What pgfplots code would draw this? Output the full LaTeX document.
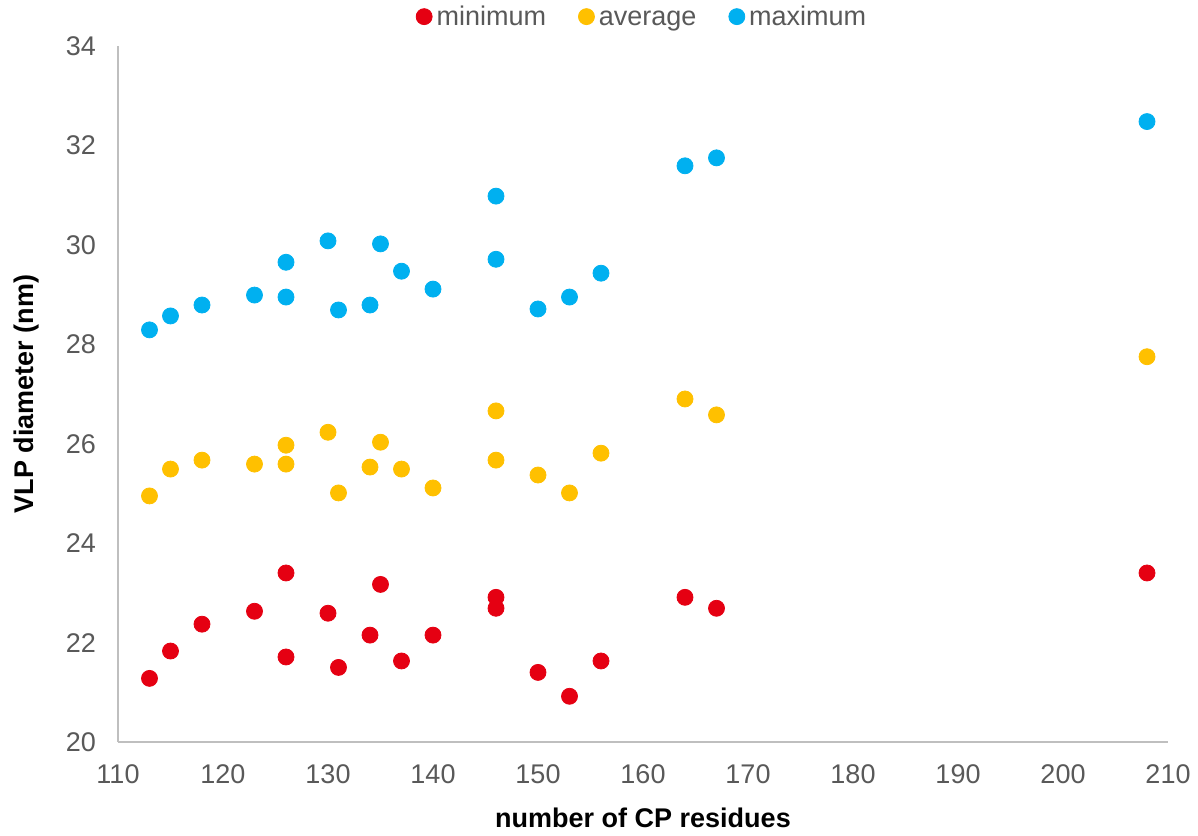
\documentclass[border=0pt]{standalone}
\usepackage{pgfplots}
\pgfplotsset{compat=1.18}
\usepackage{fontspec}
\setmainfont{Liberation Sans}
\definecolor{cmin}{HTML}{E50012}
\definecolor{cavg}{HTML}{FFC000}
\definecolor{cmax}{HTML}{00B0F0}
\definecolor{txt}{HTML}{595959}
\definecolor{axl}{HTML}{BFBFBF}
\begin{document}
\begin{tikzpicture}
\path[use as bounding box] (-59pt,-46.5pt) rectangle (540pt,371pt);
\begin{axis}[
  at={(0,0)}, anchor=south west,
  scale only axis,
  width=525pt, height=348pt,
  xmin=110, xmax=210, ymin=20, ymax=34,
  xtick={110,120,...,210},
  ytick={20,22,...,34},
  axis x line*=bottom, axis y line*=left,
  axis line style={axl, line width=1.2pt, -},
  major tick style={draw=none},
  tick label style={font=\fontsize{13.5}{16}\selectfont, text=txt},
  xticklabel style={yshift=-8pt},
  yticklabel style={xshift=-7.5pt},
  /pgf/number format/assume math mode=true,
  xlabel={number of CP residues},
  ylabel={VLP diameter (nm)},
  label style={font=\fontsize{13.5}{16}\selectfont\bfseries},
  xlabel style={at={(axis description cs:0.5,-0.109)}, anchor=center},
  ylabel style={at={(axis description cs:-0.0867,0.5)}, anchor=center},
  legend columns=3,
  legend style={draw=none, at={(0.5,1.037)}, anchor=center,
    font=\fontsize{13.5}{16}\selectfont, text=txt,
    nodes={text height=0.72em, text depth=0.22em},
    /tikz/every even column/.append style={column sep=14pt}},
  legend image code/.code={\draw[#1] (0.15cm,1.8pt) circle (4pt);},
]
\addplot[only marks, mark=*, mark size=4pt, draw=cmin, fill=cmin] coordinates {
  (113,21.28)(115,21.83)(118,22.37)(123,22.63)(126,23.40)(126,21.71)
  (130,22.59)(131,21.50)(134,22.15)(135,23.17)(137,21.63)(140,22.15)
  (146,22.91)(146,22.69)(150,21.40)(153,20.92)(156,21.63)(164,22.91)
  (167,22.69)(208,23.40)
};
\addlegendentry{minimum}
\addplot[only marks, mark=*, mark size=4pt, draw=cavg, fill=cavg] coordinates {
  (113,24.95)(115,25.49)(118,25.67)(123,25.59)(126,25.97)(126,25.59)
  (130,26.23)(131,25.01)(134,25.53)(135,26.03)(137,25.49)(140,25.11)
  (146,26.66)(146,25.67)(150,25.37)(153,25.01)(156,25.81)(164,26.90)
  (167,26.58)(208,27.75)
};
\addlegendentry{average}
\addplot[only marks, mark=*, mark size=4pt, draw=cmax, fill=cmax] coordinates {
  (113,28.29)(115,28.57)(118,28.79)(123,28.99)(126,29.65)(126,28.95)
  (130,30.08)(131,28.69)(134,28.79)(135,30.02)(137,29.47)(140,29.11)
  (146,30.98)(146,29.71)(150,28.71)(153,28.95)(156,29.43)(164,31.59)
  (167,31.75)(208,32.48)
};
\addlegendentry{maximum}
\end{axis}
\end{tikzpicture}
\end{document}
